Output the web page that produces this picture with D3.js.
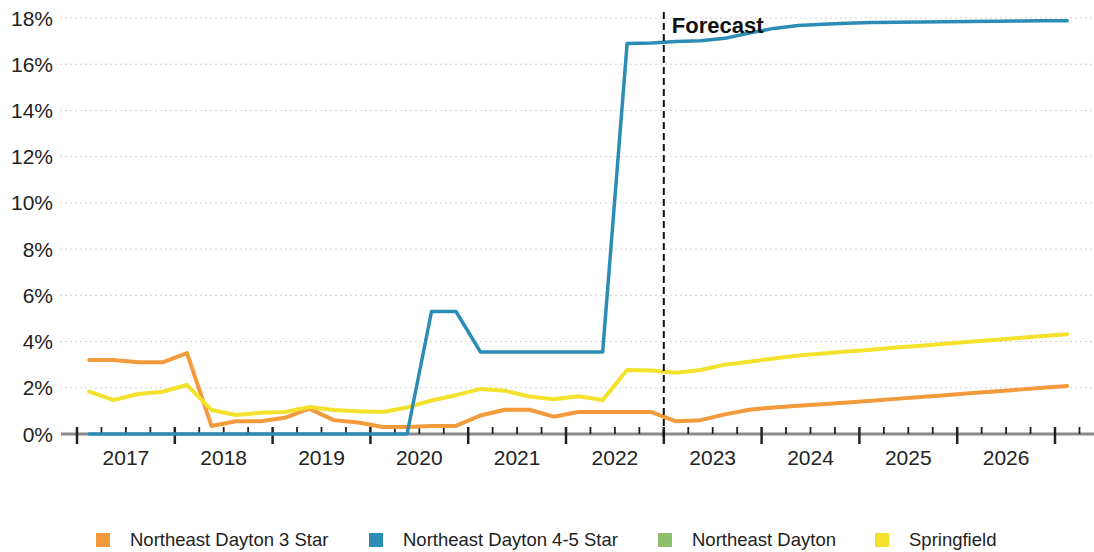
<!DOCTYPE html>
<html>
<head>
<meta charset="utf-8">
<script src="https://cdn.jsdelivr.net/npm/d3@7"></script>
<style>
  html, body { margin: 0; padding: 0; background: #fff; }
  svg { display: block; font-family: "Liberation Sans", Arial, sans-serif; }
</style>
</head>
<body>
<svg id="chart" width="1094" height="552"></svg>
<script>
// Quarterly periods, 2017 Q1 through 2027 Q1
const quarters = [
  "2017Q1","2017Q2","2017Q3","2017Q4","2018Q1","2018Q2","2018Q3","2018Q4",
  "2019Q1","2019Q2","2019Q3","2019Q4","2020Q1","2020Q2","2020Q3","2020Q4",
  "2021Q1","2021Q2","2021Q3","2021Q4","2022Q1","2022Q2","2022Q3","2022Q4",
  "2023Q1","2023Q2","2023Q3","2023Q4","2024Q1","2024Q2","2024Q3","2024Q4",
  "2025Q1","2025Q2","2025Q3","2025Q4","2026Q1","2026Q2","2026Q3","2026Q4",
  "2027Q1"
];

// Vacancy rates, percent
const northeastDayton3Star = [
  3.2, 3.2, 3.1, 3.1, 3.5, 0.35, 0.55, 0.55, 0.7, 1.1, 0.6, 0.5,
  0.3, 0.3, 0.35, 0.35, 0.8, 1.05, 1.05, 0.75, 0.95, 0.95, 0.95, 0.95,
  0.55, 0.6, 0.85, 1.05, 1.15, 1.22, 1.29, 1.36, 1.44, 1.52, 1.6, 1.68,
  1.76, 1.84, 1.92, 2.0, 2.08
];
const northeastDayton45Star = [
  0, 0, 0, 0, 0, 0, 0, 0, 0, 0, 0, 0,
  0, 0, 5.3, 5.3, 3.55, 3.55, 3.55, 3.55, 3.55, 3.55, 16.9, 16.92,
  16.98, 17.02, 17.12, 17.35, 17.55, 17.68, 17.73, 17.77, 17.8, 17.82, 17.83, 17.84,
  17.85, 17.86, 17.87, 17.88, 17.88
];
const northeastDayton = [];
const springfield = [
  1.83, 1.47, 1.73, 1.83, 2.12, 1.04, 0.82, 0.92, 0.95, 1.17, 1.04, 0.98,
  0.95, 1.15, 1.45, 1.68, 1.95, 1.87, 1.62, 1.5, 1.63, 1.47, 2.77, 2.75,
  2.65, 2.77, 3.0, 3.13, 3.27, 3.4, 3.48, 3.57, 3.65, 3.74, 3.82, 3.9,
  3.99, 4.07, 4.15, 4.24, 4.32
];

const yTicks = [0, 2, 4, 6, 8, 10, 12, 14, 16, 18];
const yearLabels = ["2017","2018","2019","2020","2021","2022","2023","2024","2025","2026"];
const forecastStart = 2023;

const seriesNames = ["Northeast Dayton 3 Star", "Northeast Dayton 4-5 Star", "Northeast Dayton", "Springfield"];
const seriesColors = ["#f39a3c", "#2b8db5", "#8cc06c", "#f4e12c"];
const seriesValues = [northeastDayton3Star, northeastDayton45Star, northeastDayton, springfield];

const svg = d3.select("#chart");

// Quarter string -> fractional year at mid-quarter
const toYear = q => +q.slice(0, 4) + (+q.slice(5) - 0.5) / 4;

const x = d3.scaleLinear().domain([2017, 2027]).range([77, 1055]);
const y = d3.scaleLinear().domain([0, 18]).range([434, 18]);

// Horizontal dotted gridlines
svg.append("g").selectAll("line")
  .data(yTicks.filter(d => d > 0))
  .join("line")
  .attr("x1", 60).attr("x2", 1094)
  .attr("y1", d => y(d)).attr("y2", d => y(d))
  .attr("stroke", "#d2d2d2")
  .attr("stroke-width", 1)
  .attr("stroke-dasharray", "2,3");

// Y axis labels
svg.append("g").selectAll("text")
  .data(yTicks)
  .join("text")
  .attr("x", 53)
  .attr("y", d => y(d))
  .attr("dy", "0.36em")
  .attr("text-anchor", "end")
  .attr("font-size", 21)
  .attr("fill", "#222")
  .text(d => d + "%");

// X axis baseline
svg.append("line")
  .attr("x1", 61).attr("x2", 1094)
  .attr("y1", y(0)).attr("y2", y(0))
  .attr("stroke", "#8a8a8a")
  .attr("stroke-width", 3);

// Quarterly minor ticks and yearly major ticks
const quarterTicks = d3.range(0, 42).map(i => 2017 + i / 4);
svg.append("g").selectAll("line")
  .data(quarterTicks)
  .join("line")
  .attr("x1", d => x(d)).attr("x2", d => x(d))
  .attr("y1", 427)
  .attr("y2", d => Number.isInteger(d) ? 444 : 434)
  .attr("stroke", "#222")
  .attr("stroke-width", d => Number.isInteger(d) ? 2.5 : 1.8);

// Year labels centred in each year
svg.append("g").selectAll("text")
  .data(yearLabels)
  .join("text")
  .attr("x", d => x(+d + 0.5))
  .attr("y", 465)
  .attr("text-anchor", "middle")
  .attr("font-size", 21)
  .attr("fill", "#222")
  .text(d => d);

// Series lines
const line = d3.line()
  .x((d, i) => x(toYear(quarters[i])))
  .y(d => y(d));

const drawOrder = [2, 0, 3, 1];
svg.append("g").selectAll("path")
  .data(drawOrder.filter(k => seriesValues[k].length > 0))
  .join("path")
  .attr("d", k => line(seriesValues[k]))
  .attr("fill", "none")
  .attr("stroke", k => seriesColors[k])
  .attr("stroke-width", k => k === 1 ? 3.5 : 4)
  .attr("stroke-linejoin", "round")
  .attr("stroke-linecap", "round");

// Forecast divider
svg.append("line")
  .attr("x1", x(forecastStart)).attr("x2", x(forecastStart))
  .attr("y1", 12).attr("y2", 440)
  .attr("stroke", "#111")
  .attr("stroke-width", 2)
  .attr("stroke-dasharray", "7,4");

svg.append("text")
  .attr("x", x(forecastStart) + 8)
  .attr("y", 33)
  .attr("font-size", 22)
  .attr("font-weight", "bold")
  .attr("fill", "#111")
  .text("Forecast");

// Legend
const legendX = [96, 369, 658, 875];
const legend = svg.append("g").selectAll("g")
  .data(seriesNames)
  .join("g")
  .attr("transform", (d, i) => `translate(${legendX[i]},540)`);
legend.append("rect")
  .attr("x", 0).attr("y", -7)
  .attr("width", 14).attr("height", 14)
  .attr("fill", (d, i) => seriesColors[i]);
legend.append("text")
  .attr("x", 34)
  .attr("y", 6)
  .attr("font-size", 18.5)
  .attr("fill", "#222")
  .text(d => d);
</script>
</body>
</html>
